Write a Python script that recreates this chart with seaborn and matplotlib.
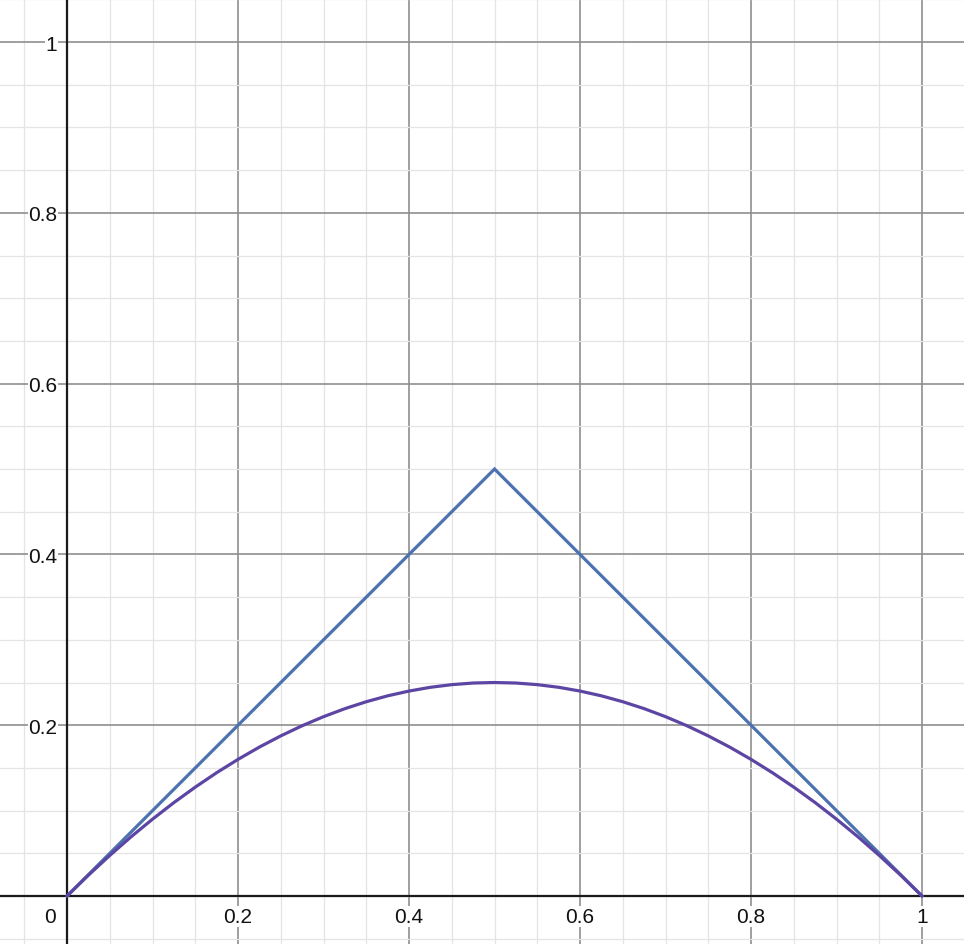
import matplotlib
matplotlib.use("Agg")
import matplotlib.pyplot as plt
import pandas as pd
import seaborn as sns
from matplotlib.ticker import MultipleLocator

sns.set_style("white")
plt.rcParams["font.family"] = ["Liberation Sans", "DejaVu Sans"]

# triangle (blue) and parabola (purple)
tri_x = [0.0, 0.5, 1.0]
tri_y = [0.0, 0.5, 0.0]
arc_x = [0.0, 0.025, 0.05, 0.075, 0.1, 0.125, 0.15, 0.175, 0.2, 0.225,
         0.25, 0.275, 0.3, 0.325, 0.35, 0.375, 0.4, 0.425, 0.45, 0.475,
         0.5, 0.525, 0.55, 0.575, 0.6, 0.625, 0.65, 0.675, 0.7, 0.725,
         0.75, 0.775, 0.8, 0.825, 0.85, 0.875, 0.9, 0.925, 0.95, 0.975, 1.0]
arc_y = [0.0, 0.0244, 0.0475, 0.0694, 0.09, 0.1094, 0.1275, 0.1444, 0.16, 0.1744,
         0.1875, 0.1994, 0.21, 0.2194, 0.2275, 0.2344, 0.24, 0.2444, 0.2475, 0.2494,
         0.25, 0.2494, 0.2475, 0.2444, 0.24, 0.2344, 0.2275, 0.2194, 0.21, 0.1994,
         0.1875, 0.1744, 0.16, 0.1444, 0.1275, 0.1094, 0.09, 0.0694, 0.0475, 0.0244, 0.0]
tick_vals = [0.2, 0.4, 0.6, 0.8, 1.0]
tick_labels = ["0.2", "0.4", "0.6", "0.8", "1"]

tri = pd.DataFrame({"x": tri_x, "y": tri_y})
arc = pd.DataFrame({"x": arc_x, "y": arc_y})

fig = plt.figure(figsize=(9.64, 9.45), dpi=100)
ax = fig.add_axes([0, 0, 1, 1])

sns.lineplot(data=tri, x="x", y="y", ax=ax, color="#4c72b0", lw=2.3,
             sort=False, estimator=None, zorder=5, solid_joinstyle="miter")
sns.lineplot(data=arc, x="x", y="y", ax=ax, color="#5d46a3", lw=2.3,
             sort=False, estimator=None, zorder=6, solid_joinstyle="round")

ax.set_xlim(-0.0784, 1.0491)
ax.set_ylim(-0.0562, 1.0504)

ax.xaxis.set_major_locator(MultipleLocator(0.2))
ax.yaxis.set_major_locator(MultipleLocator(0.2))
ax.xaxis.set_minor_locator(MultipleLocator(0.05))
ax.yaxis.set_minor_locator(MultipleLocator(0.05))
ax.grid(which="major", color="#8f8f8f", lw=1.2, zorder=1)
ax.grid(which="minor", color="#e4e4e4", lw=0.9, zorder=0)
ax.set_axisbelow(True)

ax.spines["left"].set_position(("data", 0))
ax.spines["bottom"].set_position(("data", 0))
ax.spines["right"].set_visible(False)
ax.spines["top"].set_visible(False)
for s in ["left", "bottom"]:
    ax.spines[s].set_color("#1a1a1a")
    ax.spines[s].set_linewidth(1.6)
    ax.spines[s].set_zorder(4)

ax.set_xticks(tick_vals, tick_labels)
ax.set_yticks(tick_vals, tick_labels)
ax.tick_params(which="both", length=0, labelsize=15, colors="#111111")
ax.tick_params(axis="x", pad=8)
ax.tick_params(axis="y", pad=7)
for lbl in ax.get_xticklabels() + ax.get_yticklabels():
    lbl.set_bbox(dict(facecolor="white", edgecolor="none", pad=0.5))
ax.set_xlabel("")
ax.set_ylabel("")

ax.annotate("0", xy=(0, 0), xytext=(-8, -8), textcoords="offset points",
            ha="right", va="top", fontsize=15, color="#111111")

fig.savefig("out.png", dpi=100)
